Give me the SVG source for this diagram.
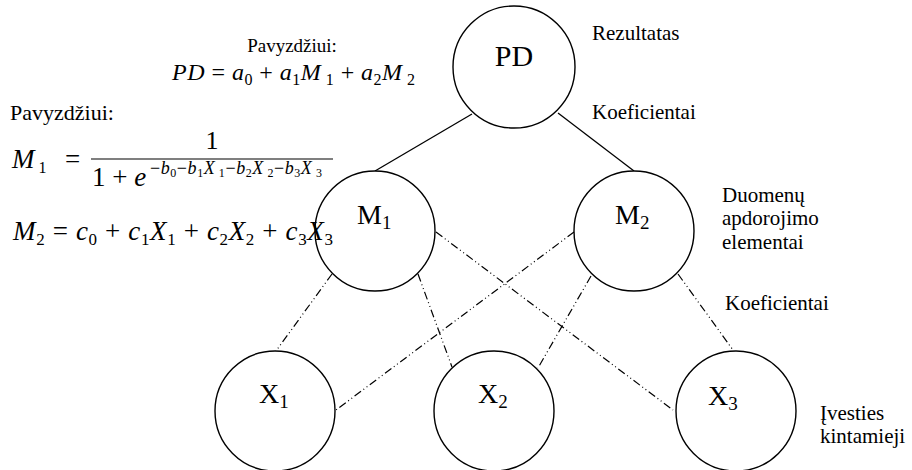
<svg xmlns="http://www.w3.org/2000/svg" width="912" height="470" viewBox="0 0 912 470" font-family="'Liberation Serif', 'Times New Roman', 'DejaVu Serif', serif">
<style>
text{font-family:'Liberation Serif','Times New Roman','DejaVu Serif',serif;fill:#000}
.node circle{fill:#fff;stroke:#000;stroke-width:1.4}
.nl{font-size:28px}
.ns{font-size:19px}
.lbl{font-size:21px}
.it{font-style:italic}
.solid{stroke:#000;stroke-width:1.3;fill:none}
.dd{stroke:#000;stroke-width:1.2;fill:none;stroke-dasharray:8 3 1 3 1 3}
</style>
<g id="connectors">
<line class="solid" x1="472" y1="114" x2="375" y2="171"/>
<line class="solid" x1="558" y1="113" x2="634" y2="171"/>
<line class="dd" x1="332" y1="274" x2="276" y2="351"/>
<line class="dd" x1="418" y1="274" x2="452" y2="367"/>
<line class="dd" x1="436" y1="232" x2="673" y2="410"/>
<line class="dd" x1="574" y1="232" x2="336" y2="410"/>
<line class="dd" x1="591" y1="276" x2="538" y2="368"/>
<line class="dd" x1="678" y1="274" x2="733" y2="350"/>
</g>
<g id="PD" class="node"><circle cx="514" cy="67" r="61"/><text x="514" y="66" text-anchor="middle" style="font-size:30px">PD</text></g>
<g id="M1" class="node"><circle cx="375" cy="231" r="60"/><text x="357" y="224"><tspan class="nl">M</tspan><tspan class="ns" dy="5">1</tspan></text></g>
<g id="M2" class="node"><circle cx="634" cy="231" r="60"/><text x="615" y="224"><tspan class="nl">M</tspan><tspan class="ns" dy="5">2</tspan></text></g>
<g id="X1" class="node"><circle cx="275" cy="411" r="60"/><text x="259" y="403"><tspan class="nl">X</tspan><tspan class="ns" dy="5">1</tspan></text></g>
<g id="X2" class="node"><circle cx="494" cy="411" r="60"/><text x="478" y="403"><tspan class="nl">X</tspan><tspan class="ns" dy="5">2</tspan></text></g>
<g id="X3" class="node"><circle cx="736" cy="411" r="60"/><text x="708" y="405"><tspan class="nl">X</tspan><tspan class="ns" dy="5">3</tspan></text></g>
<g id="labels">
<text class="lbl" x="592" y="40">Rezultatas</text>
<text class="lbl" x="592" y="119">Koeficientai</text>
<text class="lbl" x="722" y="202">Duomenų</text>
<text class="lbl" x="722" y="225">apdorojimo</text>
<text class="lbl" x="722" y="249">elementai</text>
<text class="lbl" x="725" y="310">Koeficientai</text>
<text class="lbl" x="820" y="420">Įvesties</text>
<text class="lbl" x="820" y="443">kintamieji</text>
</g>
<g id="equations">
<text x="292" y="52" text-anchor="middle" style="font-size:19px">Pavyzdžiui:</text>
<text x="172" y="80" style="font-size:24px" textLength="243" lengthAdjust="spacing"><tspan class="it">PD</tspan> = <tspan class="it">a</tspan><tspan dy="5" style="font-size:16px">0</tspan><tspan dy="-5"> + </tspan><tspan class="it">a</tspan><tspan dy="5" style="font-size:16px">1</tspan><tspan dy="-5" class="it">M</tspan><tspan dy="5" style="font-size:16px"> 1</tspan><tspan dy="-5"> + </tspan><tspan class="it">a</tspan><tspan dy="5" style="font-size:16px">2</tspan><tspan dy="-5" class="it">M</tspan><tspan dy="5" style="font-size:16px"> 2</tspan></text>
<text x="10" y="120" style="font-size:22px">Pavyzdžiui:</text>
<text x="12" y="168" style="font-size:27px"><tspan class="it">M</tspan><tspan dy="5" style="font-size:16px"> 1</tspan></text>
<text x="65" y="168" style="font-size:27px">=</text>
<text x="212" y="149" text-anchor="middle" style="font-size:26px">1</text>
<line x1="91" y1="159" x2="333" y2="159" stroke="#000" stroke-width="1.2"/>
<text x="92" y="186" style="font-size:27px">1 + <tspan class="it">e</tspan></text>
<text x="150" y="174" style="font-size:18px" textLength="172" lengthAdjust="spacing">−<tspan class="it">b</tspan><tspan dy="3" style="font-size:12px">0</tspan><tspan dy="-3">−</tspan><tspan class="it">b</tspan><tspan dy="3" style="font-size:12px">1</tspan><tspan dy="-3" class="it">X</tspan><tspan dy="3" style="font-size:12px"> 1</tspan><tspan dy="-3">−</tspan><tspan class="it">b</tspan><tspan dy="3" style="font-size:12px">2</tspan><tspan dy="-3" class="it">X</tspan><tspan dy="3" style="font-size:12px"> 2</tspan><tspan dy="-3">−</tspan><tspan class="it">b</tspan><tspan dy="3" style="font-size:12px">3</tspan><tspan dy="-3" class="it">X</tspan><tspan dy="3" style="font-size:12px"> 3</tspan></text>
<text x="13" y="240" style="font-size:27px" textLength="320" lengthAdjust="spacing"><tspan class="it">M</tspan><tspan dy="5" style="font-size:17px">2</tspan><tspan dy="-5"> = </tspan><tspan class="it">c</tspan><tspan dy="5" style="font-size:17px">0</tspan><tspan dy="-5"> + </tspan><tspan class="it">c</tspan><tspan dy="5" style="font-size:17px">1</tspan><tspan dy="-5" class="it">X</tspan><tspan dy="5" style="font-size:17px">1</tspan><tspan dy="-5"> + </tspan><tspan class="it">c</tspan><tspan dy="5" style="font-size:17px">2</tspan><tspan dy="-5" class="it">X</tspan><tspan dy="5" style="font-size:17px">2</tspan><tspan dy="-5"> + </tspan><tspan class="it">c</tspan><tspan dy="5" style="font-size:17px">3</tspan><tspan dy="-5" class="it">X</tspan><tspan dy="5" style="font-size:17px">3</tspan></text>
</g>
</svg>
